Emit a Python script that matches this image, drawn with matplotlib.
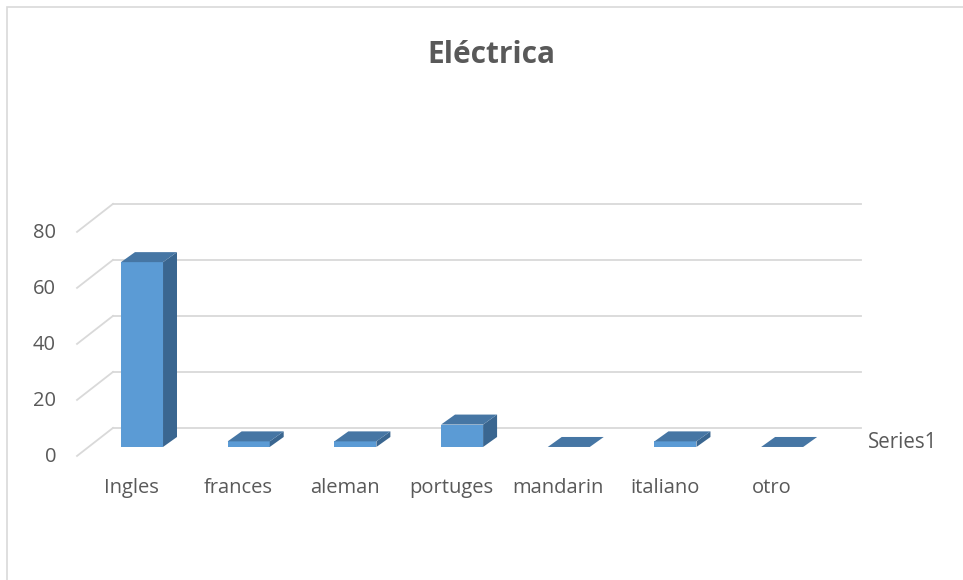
import matplotlib.pyplot as plt
from matplotlib.patches import Polygon, Rectangle

categories = ["Ingles", "frances", "aleman", "portuges", "mandarin", "italiano", "otro"]
values = [66, 2, 2, 8, 0, 2, 0]
yticks = [0, 20, 40, 60, 80]
series_name = "Series1"
title = "Eléctrica"

# colours of the fake 3d column
front_col = "#5B9BD5"
top_col = "#4676A4"
side_col = "#3A6690"
grid_col = "#D9D9D9"
text_col = "#595959"

plt.rcParams['font.family'] = ['Open Sans', 'DejaVu Sans']

fig = plt.figure(figsize=(9.63, 5.80), dpi=100)
ax = fig.add_axes([0, 0, 1, 1])
ax.set_xlim(-1.331, 7.695)
ax.set_ylim(-47.5, 159.6)
ax.axis("off")

# chart area border
fig.patches.append(Rectangle((7 / 963, -0.1), 1.2, 1 - 7 / 580 + 0.1,
                             transform=fig.transFigure, fill=False,
                             edgecolor=grid_col, linewidth=1.2))

# depth of the floor / walls, in data units
wall_dx, wall_dy = 0.337, 10.0
front_x, front_y = -0.609, -3.2
right_x = 6.74

for t in yticks:
    y0 = t + front_y
    ax.plot([front_x, front_x + wall_dx], [y0, y0 + wall_dy], color=grid_col, lw=1.3, zorder=1)
    ax.plot([front_x + wall_dx, right_x], [y0 + wall_dy, y0 + wall_dy], color=grid_col, lw=1.3, zorder=1)
    ax.text(-0.806, t - 3.7, str(t), ha="right", va="center", fontsize=14.5, color=text_col)

# columns
w = 0.394
dx, dy = 0.131, 3.57
for i, v in enumerate(values):
    x0, x1 = i - w / 2, i + w / 2
    if v > 0:
        ax.add_patch(Rectangle((x0, 0), w, v, facecolor=front_col, edgecolor="none", zorder=3))
        ax.add_patch(Polygon([(x1, 0), (x1 + dx, dy), (x1 + dx, v + dy), (x1, v)],
                             closed=True, facecolor=side_col, edgecolor="none", zorder=3))
    ax.add_patch(Polygon([(x0, v), (x1, v), (x1 + dx, v + dy), (x0 + dx, v + dy)],
                         closed=True, facecolor=top_col, edgecolor="none", zorder=3))
    ax.text(i - 0.10, -14.5, categories[i], ha="center", va="center", fontsize=14.5, color=text_col)

ax.text(6.80, 1.5, series_name, ha="left", va="center", fontsize=14.8, color=text_col)

ax.text(3.27, 140.0, title, ha="center", va="center", fontsize=21.5, fontweight="bold", color=text_col)

fig.savefig("out.png", dpi=100)
